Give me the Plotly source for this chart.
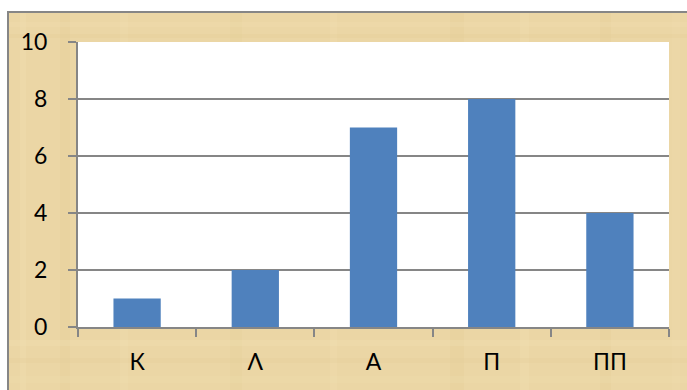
import plotly.graph_objects as go

# Chart data
categories = ["К", "Λ", "А", "П", "ПП"]
values = [1, 2, 7, 8, 4]
y_ticks = [0, 2, 4, 6, 8, 10]

W, H = 687, 390
M_LEFT, M_RIGHT, M_TOP, M_BOTTOM = 78, 18, 42, 63
plot_w = W - M_LEFT - M_RIGHT
plot_h = H - M_TOP - M_BOTTOM


def px_x(px):
    return (px - M_LEFT) / plot_w


def px_y(py):
    return (H - M_BOTTOM - py) / plot_h


PARCHMENT = "#EBD6A5"
GRID = "#868686"
BAR = "#4F81BD"
FONT = "Lato, 'Open Sans', sans-serif"

fig = go.Figure(
    go.Bar(
        x=categories,
        y=values,
        marker=dict(color=BAR, line=dict(width=0)),
        width=0.4,
        hoverinfo="skip",
    )
)

shapes = []
# parchment frame behind the whole chart
shapes.append(dict(
    type="rect", xref="paper", yref="paper", layer="below",
    x0=px_x(8), x1=px_x(W + 20), y0=px_y(H + 20), y1=px_y(12),
    fillcolor=PARCHMENT, line=dict(color=GRID, width=2),
))
# faint fibre streaks for a papyrus look
streaks_v = [(20, 6, "#F3E3B8"), (60, 10, "#E2CA92"), (120, 8, "#F1DFB2"),
             (230, 12, "#E5CE98"), (330, 7, "#F2E1B5"), (450, 14, "#E4CC94"),
             (520, 9, "#F3E2B6"), (600, 11, "#E3CB93"), (672, 8, "#F0DDAE")]
for x, w, c in streaks_v:
    shapes.append(dict(
        type="rect", xref="paper", yref="paper", layer="below",
        x0=px_x(x), x1=px_x(x + w), y0=px_y(H), y1=px_y(13),
        fillcolor=c, opacity=0.25, line=dict(width=0),
    ))
streaks_h = [(22, 5, "#F2E0B3"), (34, 4, "#E3CB95"), (340, 6, "#F3E2B7"),
             (358, 5, "#E4CD97"), (376, 7, "#F1DEB0")]
for y, h, c in streaks_h:
    shapes.append(dict(
        type="rect", xref="paper", yref="paper", layer="below",
        x0=px_x(9), x1=px_x(W), y0=px_y(y + h), y1=px_y(y),
        fillcolor=c, opacity=0.25, line=dict(width=0),
    ))
# white plot area
shapes.append(dict(
    type="rect", xref="paper", yref="paper", layer="below",
    x0=0, x1=1, y0=0, y1=1,
    fillcolor="white", line=dict(width=0),
))

fig.update_layout(
    width=W, height=H,
    margin=dict(l=M_LEFT, r=M_RIGHT, t=M_TOP, b=M_BOTTOM, pad=0),
    paper_bgcolor="white",
    plot_bgcolor="rgba(0,0,0,0)",
    showlegend=False,
    bargap=0.6,
    shapes=shapes,
    font=dict(family=FONT, size=23, color="black"),
    xaxis=dict(
        type="category",
        showgrid=False,
        showline=True, linecolor=GRID, linewidth=2,
        ticks="outside", ticklen=8, tickcolor=GRID, tickwidth=1.5,
        tickson="boundaries",
        ticklabelstandoff=13,
        tickfont=dict(family=FONT, size=23, color="black"),
    ),
    yaxis=dict(
        range=[0, 10],
        tickvals=y_ticks,
        showgrid=True, gridcolor=GRID, gridwidth=1.5,
        showline=True, linecolor=GRID, linewidth=2,
        zeroline=False,
        ticks="outside", ticklen=8, tickcolor=GRID, tickwidth=1.5,
        ticklabelstandoff=16,
        tickfont=dict(family=FONT, size=23, color="black"),
    ),
)

fig.write_html("out.html")
